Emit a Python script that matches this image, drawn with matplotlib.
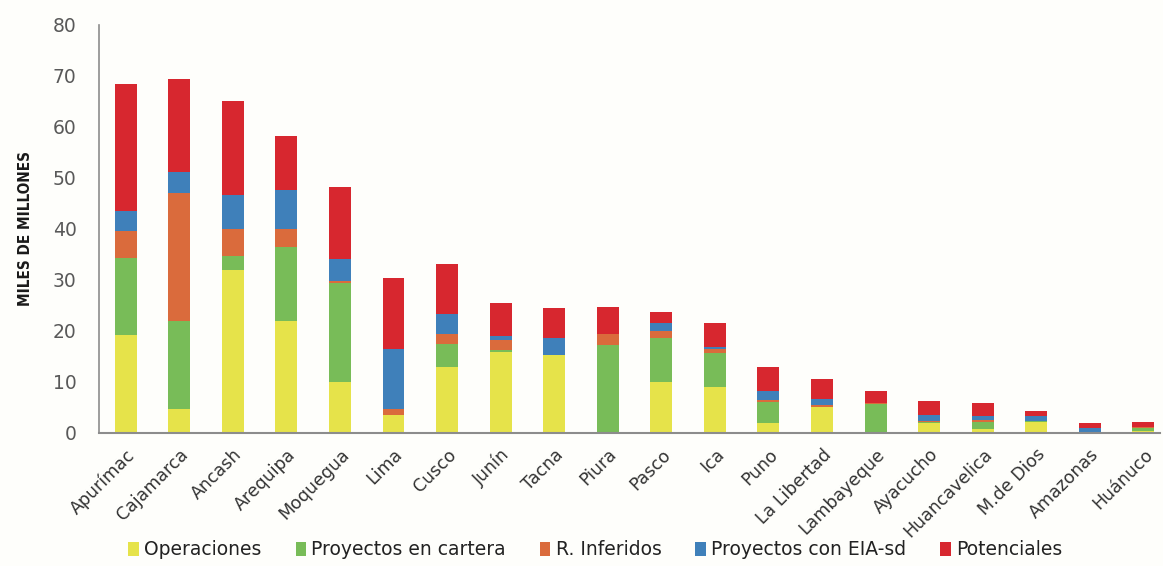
import numpy as np
import matplotlib
matplotlib.use("Agg")
import matplotlib.pyplot as plt
from matplotlib import rcParams, font_manager

rcParams['font.family'] = ['DejaVu Sans']

# pick a narrow bold family if one is installed (reference uses a condensed font)
narrow = [f.name for f in font_manager.fontManager.ttflist
          if ("Narrow" in f.name or "Condensed" in f.name or f.stretch == "condensed")
          and f.weight in (700, "bold")]
label_family = narrow[0] if narrow else "DejaVu Sans"

regiones = ["Apurímac", "Cajamarca", "Ancash", "Arequipa", "Moquegua", "Lima", "Cusco",
            "Junín", "Tacna", "Piura", "Pasco", "Ica", "Puno", "La Libertad", "Lambayeque",
            "Ayacucho", "Huancavelica", "M.de Dios", "Amazonas", "Huánuco"]

operaciones = [19.3, 4.7, 31.9, 22.0, 10.0, 3.6, 13.0, 15.8, 15.2, 0.0, 10.0, 9.0, 2.0, 5.1,
               0.0, 2.0, 0.7, 2.2, 0.0, 0.45]
cartera = [15.0, 17.2, 2.7, 14.5, 19.5, 0.0, 4.5, 0.5, 0.0, 17.3, 8.7, 6.7, 4.0, 0.0,
           5.7, 0.2, 1.4, 0.1, 0.0, 0.55]
inferidos = [5.3, 25.1, 5.4, 3.5, 0.2, 1.1, 2.0, 2.0, 0.0, 2.2, 1.3, 0.8, 0.4, 0.3,
             0.1, 0.1, 0.5, 0.1, 0.0, 0.2]
eia_sd = [4.0, 4.1, 6.6, 7.6, 4.5, 11.8, 3.9, 0.8, 3.4, 0.0, 1.5, 0.3, 1.8, 1.2,
          0.0, 1.3, 0.8, 0.9, 0.9, 0.0]
potenciales = [24.9, 18.3, 18.4, 10.6, 14.1, 13.9, 9.7, 6.4, 5.9, 5.2, 2.3, 4.8, 4.7, 3.9,
               2.4, 2.7, 2.4, 1.0, 1.0, 0.9]

series = [
    ("Operaciones", operaciones, "#E6E34A"),
    ("Proyectos en cartera", cartera, "#78BC58"),
    ("R. Inferidos", inferidos, "#DA6B3C"),
    ("Proyectos con EIA-sd", eia_sd, "#3F80BA"),
    ("Potenciales", potenciales, "#D7272F"),
]

fig = plt.figure(figsize=(11.63, 5.66), dpi=100, facecolor="#FEFEFB")
ax = fig.add_axes([0.085, 0.235, 0.912, 0.721])
ax.set_facecolor("#FEFEFB")

x = np.arange(len(regiones))
bottom = np.zeros(len(regiones))
for name, vals, color in series:
    ax.bar(x, vals, width=0.41, bottom=bottom, color=color, label=name)
    bottom += np.array(vals)

ax.set_ylim(0, 80)
ax.set_xlim(-0.5, 19.3)
ax.set_yticks(range(0, 81, 10))
ax.tick_params(axis="y", length=0, labelsize=13.5, labelcolor="#595959", pad=16)
ax.tick_params(axis="x", length=0, labelsize=12.5, labelcolor="#333333", pad=9)
ax.set_xticks(x)
ax.set_xticklabels(regiones, rotation=45, ha="right", rotation_mode="anchor")

for side in ["top", "right"]:
    ax.spines[side].set_visible(False)
ax.spines["left"].set_color("#8C8C8C")
ax.spines["bottom"].set_color("#8C8C8C")
ax.spines["left"].set_linewidth(1.2)
ax.spines["bottom"].set_linewidth(1.5)

ax.set_ylabel("MILES DE MILLONES", fontsize=11, fontweight="bold", color="#1A1A1A",
              labelpad=14, family=label_family, fontstretch="condensed")

fig.legend(loc="lower center", bbox_to_anchor=(0.512, -0.018), ncol=5, frameon=False,
           fontsize=13.5, handlelength=0.55, handleheight=0.75, handletextpad=0.3,
           columnspacing=1.8, labelcolor="#222222")

plt.savefig("out.png", dpi=100, facecolor=fig.get_facecolor())
